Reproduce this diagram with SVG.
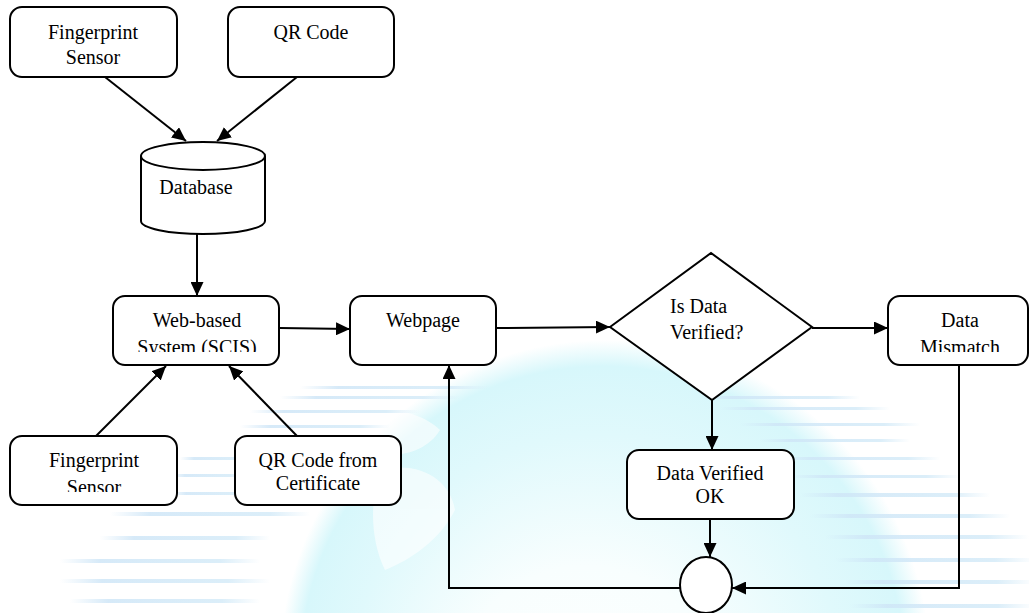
<svg xmlns="http://www.w3.org/2000/svg" width="1029" height="613" viewBox="0 0 1029 613">
  <defs>
    <style>
      .box { fill: #ffffff; stroke: #000000; stroke-width: 2; }
      .lbl { font-family: 'Liberation Serif', 'DejaVu Serif', serif; font-size: 20px; fill: #000000; }
      .mid { text-anchor: middle; }
      .edge { fill: none; stroke: #000000; stroke-width: 2; }
      .arrow { marker-end: url(#head); }
      .stripe { fill: url(#stripeFade); }
    </style>
    <marker id="head" viewBox="0 0 14 13" refX="14" refY="6.5" markerWidth="14" markerHeight="13" markerUnits="userSpaceOnUse" orient="auto">
      <path d="M0,0 L14,6.5 L0,13 Z" fill="#000000"/>
    </marker>
    <radialGradient id="globeFill" cx="0.5" cy="0.5" r="0.5" fx="0.45" fy="0.58">
      <stop offset="0" stop-color="#ffffff"/>
      <stop offset="0.4" stop-color="#f8fefe"/>
      <stop offset="0.75" stop-color="#e0f9fc"/>
      <stop offset="0.93" stop-color="#d7f7fb"/>
      <stop offset="1" stop-color="#d7f7fb" stop-opacity="0"/>
    </radialGradient>
    <linearGradient id="stripeFade" x1="0" y1="0" x2="1" y2="0">
      <stop offset="0" stop-color="#cfe6f7" stop-opacity="0"/>
      <stop offset="0.2" stop-color="#cfe6f7" stop-opacity="0.85"/>
      <stop offset="0.8" stop-color="#d5ebf8" stop-opacity="0.85"/>
      <stop offset="1" stop-color="#d5ebf8" stop-opacity="0"/>
    </linearGradient>
    <clipPath id="clipWeb"><rect x="113" y="296" width="166" height="56"/></clipPath>
    <clipPath id="clipFp2"><rect x="10" y="436" width="167" height="56"/></clipPath>
    <clipPath id="clipMis"><rect x="888" y="296" width="140" height="56"/></clipPath>
  </defs>

  <rect x="0" y="0" width="1029" height="613" fill="#ffffff"/>

  <!-- background globe and streak lines -->
  <g id="backdrop">
    <circle cx="605" cy="665" r="325" fill="url(#globeFill)"/>
    <g fill="#ffffff" opacity="0.6">
      <path d="M330,420 C370,400 420,410 440,430 C425,455 390,460 365,450 C345,440 330,430 330,420 Z"/>
      <path d="M380,470 C420,460 450,480 455,510 C440,540 410,560 385,570 C370,540 370,500 380,470 Z"/>
    </g>
    <g class="stripe">
      <rect x="300" y="386" width="190" height="3"/>
      <rect x="280" y="396" width="180" height="3"/>
      <rect x="250" y="410" width="170" height="3"/>
      <rect x="240" y="425" width="150" height="3"/>
      <rect x="180" y="457" width="70" height="3"/>
      <rect x="170" y="474" width="75" height="3"/>
      <rect x="170" y="492" width="80" height="3"/>
      <rect x="110" y="512" width="200" height="4"/>
      <rect x="100" y="536" width="170" height="4"/>
      <rect x="60" y="559" width="200" height="4"/>
      <rect x="60" y="579" width="210" height="4"/>
      <rect x="70" y="599" width="190" height="4"/>
      <rect x="700" y="396" width="160" height="3"/>
      <rect x="720" y="407" width="170" height="3"/>
      <rect x="740" y="423" width="180" height="3"/>
      <rect x="760" y="439" width="150" height="3"/>
      <rect x="780" y="457" width="160" height="3"/>
      <rect x="790" y="475" width="170" height="3"/>
      <rect x="800" y="493" width="190" height="4"/>
      <rect x="810" y="514" width="200" height="4"/>
      <rect x="825" y="535" width="204" height="4"/>
      <rect x="835" y="558" width="200" height="4"/>
      <rect x="845" y="580" width="190" height="4"/>
      <rect x="850" y="604" width="185" height="4"/>
    </g>
  </g>

  <!-- connectors -->
  <g id="connectors">
    <line class="edge arrow" x1="105" y1="77" x2="186" y2="141"/>
    <line class="edge arrow" x1="297" y1="77" x2="217" y2="141"/>
    <line class="edge arrow" x1="197" y1="234" x2="197" y2="296"/>
    <line class="edge arrow" x1="96" y1="436" x2="166" y2="366"/>
    <line class="edge arrow" x1="297" y1="436" x2="229" y2="366"/>
    <line class="edge arrow" x1="280" y1="328" x2="350" y2="329"/>
    <line class="edge arrow" x1="496" y1="328" x2="610" y2="327"/>
    <line class="edge arrow" x1="812" y1="328" x2="888" y2="328"/>
    <line class="edge arrow" x1="712" y1="400" x2="712" y2="450"/>
    <line class="edge arrow" x1="710" y1="519" x2="710" y2="557"/>
    <polyline class="edge arrow" points="959,365 959,588 732,588"/>
    <polyline class="edge arrow" points="680,588 449,588 449,365"/>
  </g>

  <g id="fingerprint-top">
    <rect class="box" x="10" y="7" width="167" height="70" rx="12"/>
    <text class="lbl mid" x="93" y="39">Fingerprint</text>
    <text class="lbl mid" x="93" y="64">Sensor</text>
  </g>

  <g id="qr-code">
    <rect class="box" x="228" y="7" width="166" height="70" rx="12"/>
    <text class="lbl mid" x="311" y="39">QR Code</text>
  </g>

  <g id="database">
    <path class="box" d="M141,156 L141,221 A62,13 0 0,0 265,221 L265,156"/>
    <ellipse class="box" cx="203" cy="156" rx="62" ry="14"/>
    <text class="lbl mid" x="196" y="194">Database</text>
  </g>

  <g id="web-system">
    <rect class="box" x="113" y="296" width="166" height="69" rx="12"/>
    <g clip-path="url(#clipWeb)">
      <text class="lbl mid" x="197" y="327">Web-based</text>
      <text class="lbl mid" x="197" y="354">System (SCIS)</text>
    </g>
  </g>

  <g id="webpage">
    <rect class="box" x="350" y="296" width="146" height="69" rx="12"/>
    <text class="lbl mid" x="423" y="327">Webpage</text>
  </g>

  <g id="fingerprint-bottom">
    <rect class="box" x="10" y="436" width="167" height="69" rx="12"/>
    <g clip-path="url(#clipFp2)">
      <text class="lbl mid" x="94" y="467">Fingerprint</text>
      <text class="lbl mid" x="94" y="494">Sensor</text>
    </g>
  </g>

  <g id="qr-certificate">
    <rect class="box" x="235" y="436" width="166" height="69" rx="12"/>
    <text class="lbl mid" x="318" y="467">QR Code from</text>
    <text class="lbl mid" x="318" y="490">Certificate</text>
  </g>

  <g id="decision">
    <polygon class="box" points="610,327 711,253 812,327 712,400"/>
    <text class="lbl" x="670" y="313">Is Data</text>
    <text class="lbl" x="670" y="339">Verified?</text>
  </g>

  <g id="data-mismatch">
    <rect class="box" x="888" y="296" width="140" height="69" rx="12"/>
    <g clip-path="url(#clipMis)">
      <text class="lbl mid" x="960" y="327">Data</text>
      <text class="lbl mid" x="960" y="354">Mismatch</text>
    </g>
  </g>

  <g id="data-verified">
    <rect class="box" x="627" y="450" width="167" height="69" rx="12"/>
    <text class="lbl mid" x="710" y="480">Data Verified</text>
    <text class="lbl mid" x="710" y="503">OK</text>
  </g>

  <g id="end-point">
    <ellipse class="box" cx="706" cy="585" rx="26" ry="28"/>
  </g>
</svg>
